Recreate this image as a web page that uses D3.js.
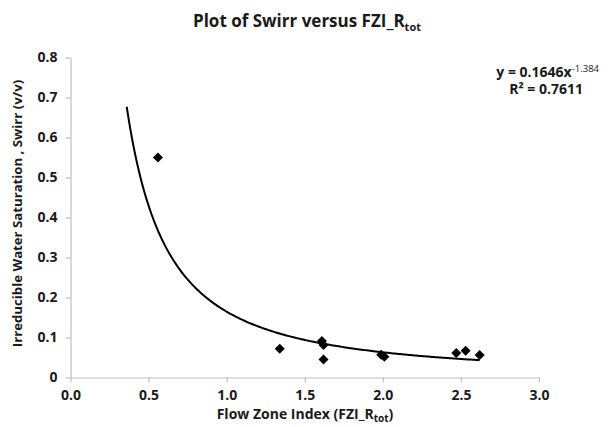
<!DOCTYPE html>
<html>
<head>
<meta charset="utf-8">
<script src="https://cdn.jsdelivr.net/npm/d3@7"></script>
<style>
  html, body { margin: 0; padding: 0; background: #fff; }
  svg { display: block; font-family: "Open Sans", "Liberation Sans", Arial, sans-serif; }
</style>
</head>
<body>
<svg id="chart" width="611" height="427"></svg>
<script>
// Measured samples: flow zone index vs irreducible water saturation
const fzi   = [0.56, 1.34, 1.61, 1.62, 1.62, 1.99, 2.01, 2.47, 2.53, 2.62];
const swirr = [0.55, 0.072, 0.091, 0.081, 0.045, 0.057, 0.052, 0.061, 0.067, 0.056];

// Power-law trendline y = a * x^b
const fitA = 0.1646;
const fitB = -1.384;
const fitR2 = 0.7611;
const fitRange = [0.36, 2.62];

const xTicks = [0, 0.5, 1.0, 1.5, 2.0, 2.5, 3.0];
const yTicks = [0, 0.1, 0.2, 0.3, 0.4, 0.5, 0.6, 0.7, 0.8];

const svg = d3.select("#chart");
const axisColor = "#bfbfbf";
const textColor = "#1a1a1a";

const x = d3.scaleLinear().domain([0, 3]).range([70.5, 539]);
const y = d3.scaleLinear().domain([0, 0.8]).range([377.5, 57.5]);

// Title
const title = svg.append("text")
  .attr("x", 307).attr("y", 27)
  .attr("text-anchor", "middle")
  .attr("font-size", 17).attr("font-weight", "bold").attr("fill", textColor);
title.append("tspan").text("Plot of Swirr versus FZI_R");
title.append("tspan").attr("font-size", 11).attr("dy", 4).text("tot");

// Axes
const xAxis = d3.axisBottom(x).tickValues(xTicks).tickFormat(d3.format(".1f")).tickSize(5).tickSizeOuter(0);
const yAxis = d3.axisLeft(y).tickValues(yTicks).tickFormat(d => d === 0 ? "0" : d3.format(".1f")(d)).tickSize(5).tickSizeOuter(0);

const gx = svg.append("g").attr("transform", `translate(0,${y(0)})`).call(xAxis);
const gy = svg.append("g").attr("transform", `translate(${x(0)},0)`).call(yAxis);

[gx, gy].forEach(g => {
  g.select(".domain").attr("stroke", axisColor).attr("stroke-width", 1.2);
  g.selectAll(".tick line").attr("stroke", axisColor).attr("stroke-width", 1.2);
  g.selectAll(".tick text")
    .attr("font-family", "'Open Sans', 'Liberation Sans', Arial, sans-serif")
    .attr("font-size", 14).attr("font-weight", "bold").attr("fill", textColor);
});
gx.selectAll(".tick text").attr("y", 9).attr("dy", "0.95em");
gy.selectAll(".tick text").attr("dx", "-0.35em");

// Axis titles
const xLabel = svg.append("text")
  .attr("x", 305).attr("y", 419)
  .attr("text-anchor", "middle")
  .attr("font-size", 14).attr("font-weight", "bold").attr("fill", textColor);
xLabel.append("tspan").text("Flow Zone Index (FZI_R");
xLabel.append("tspan").attr("font-size", 10).attr("dy", 3).text("tot");
xLabel.append("tspan").attr("dy", -3).text(")");

svg.append("text")
  .attr("transform", `translate(22,${y(0.41)}) rotate(-90)`)
  .attr("text-anchor", "middle")
  .attr("font-size", 13.2).attr("font-weight", "bold").attr("fill", textColor)
  .text("Irreducible Water Saturation , Swirr (v/v)");

// Trendline
const curvePts = d3.range(0, 201).map(i => {
  const xv = fitRange[0] + (fitRange[1] - fitRange[0]) * i / 200;
  return [xv, fitA * Math.pow(xv, fitB)];
});
svg.append("path")
  .datum(curvePts)
  .attr("fill", "none").attr("stroke", "#000").attr("stroke-width", 2)
  .attr("d", d3.line().x(d => x(d[0])).y(d => y(d[1])));

// Data markers (diamonds)
svg.append("g").selectAll("path")
  .data(fzi.map((v, i) => [v, swirr[i]]))
  .join("path")
  .attr("transform", d => `translate(${x(d[0])},${y(d[1])}) rotate(45)`)
  .attr("d", d3.symbol(d3.symbolSquare, 50)())
  .attr("fill", "#000");

// Equation and R²
const eq = svg.append("text")
  .attr("x", 599).attr("y", 77)
  .attr("text-anchor", "end")
  .attr("font-size", 14).attr("font-weight", "bold").attr("fill", textColor);
eq.append("tspan").text(`y = ${fitA}x`);
eq.append("tspan").attr("font-size", 9.5).attr("font-weight", "normal").attr("dy", -5).text(fitB.toFixed(3));

const r2 = svg.append("text")
  .attr("x", 583).attr("y", 94)
  .attr("text-anchor", "end")
  .attr("font-size", 14).attr("font-weight", "bold").attr("fill", textColor);
r2.append("tspan").text(`R² = ${fitR2}`);
</script>
</body>
</html>
